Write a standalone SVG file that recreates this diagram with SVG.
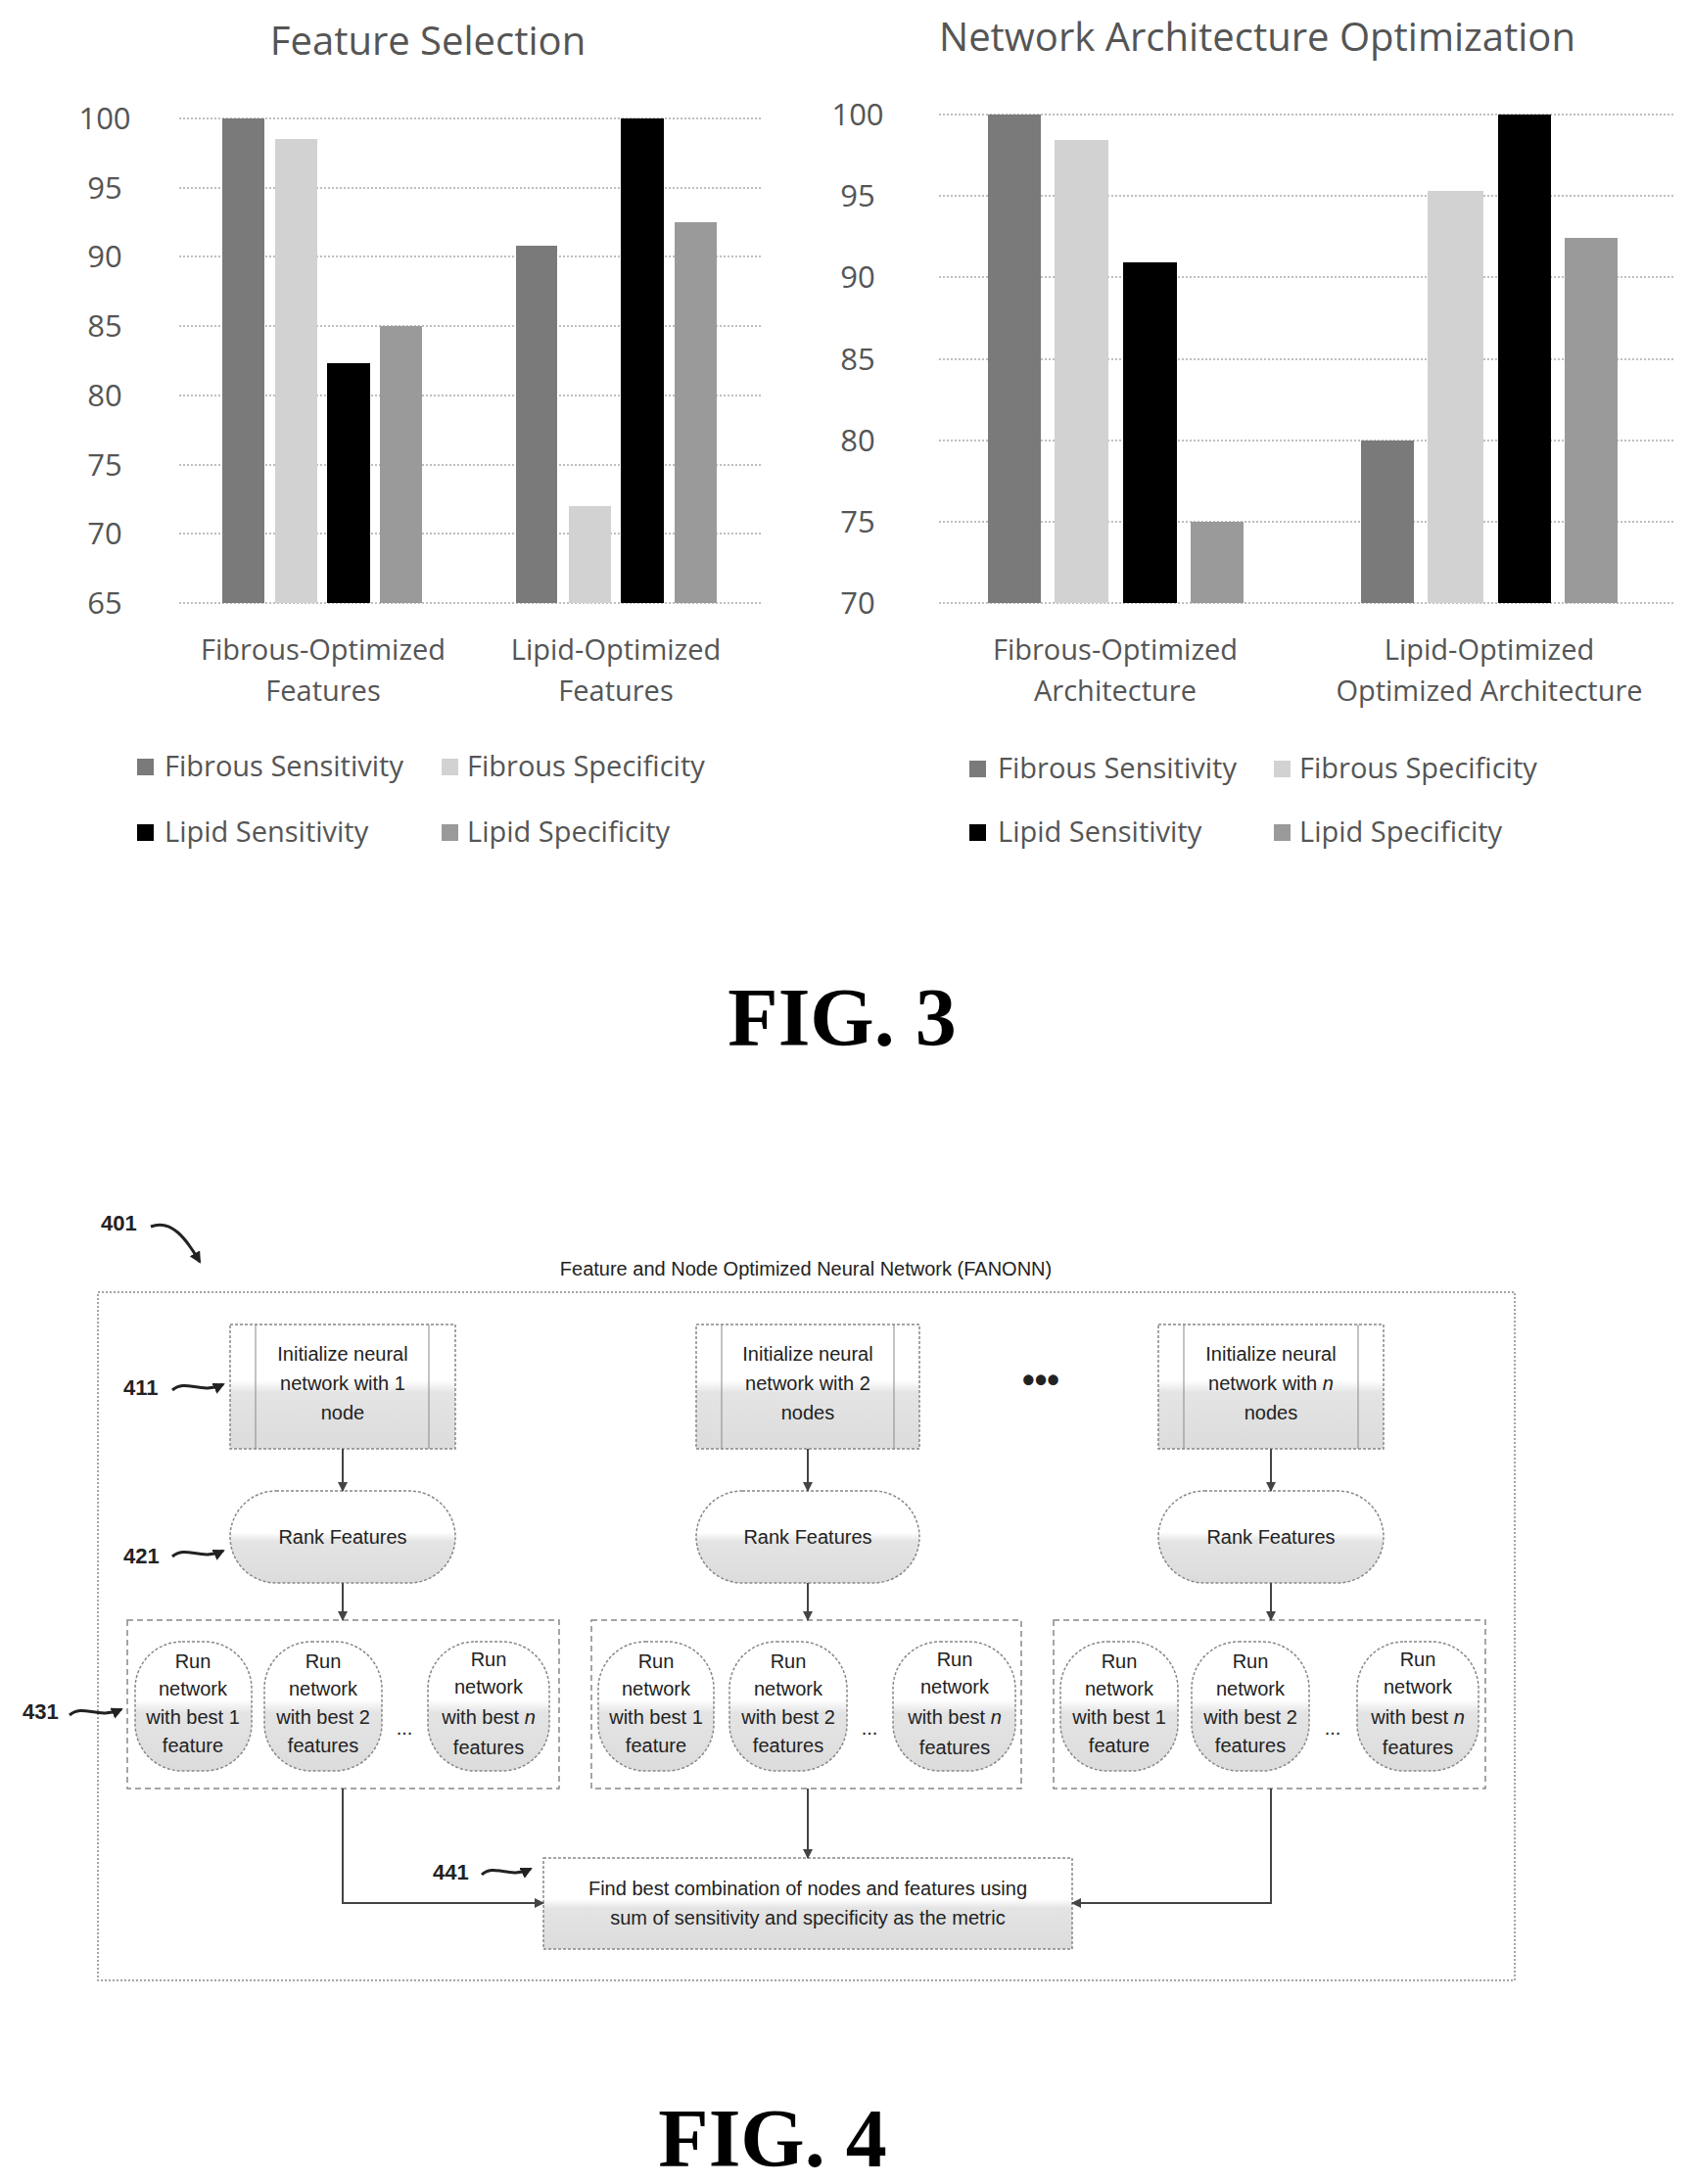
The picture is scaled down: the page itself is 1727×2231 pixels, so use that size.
<svg xmlns="http://www.w3.org/2000/svg" width="1727" height="2231" viewBox="0 0 1727 2231">
<style>
.ct{font-family:"Open Sans","Noto Sans",sans-serif;fill:#555}
.t{font-size:40px}
.ax{font-size:31px;text-anchor:middle}
.cat{font-size:29px;text-anchor:middle}
.lg{font-size:29px}
.g{stroke:#aaa;stroke-width:1.5;stroke-dasharray:2 2}
.fs{fill:#7a7a7a}.fp{fill:#d2d2d2}.ls{fill:#000}.lp{fill:#9a9a9a}
.fig{font-family:"Liberation Serif",serif;font-weight:bold;font-size:84px;text-anchor:middle;fill:#000}
.ft{font-family:"Liberation Sans",Arial,sans-serif;font-size:20px;fill:#222;text-anchor:middle}
.lb{font-family:"Liberation Sans",Arial,sans-serif;font-size:22px;font-weight:bold;fill:#222}
.bx{fill:url(#gr);stroke:#888;stroke-width:1.5;stroke-dasharray:3 2}
.dash{fill:none;stroke:#888;stroke-width:1.5;stroke-dasharray:6 4}
.c{fill:none;stroke:#444;stroke-width:2;marker-end:url(#ar)}
.sq{fill:none;stroke:#222;stroke-width:3;marker-end:url(#ar2)}
</style>
<defs>
<linearGradient id="gr" x1="0" y1="0" x2="0" y2="1"><stop offset="0.45" stop-color="#fff"/><stop offset="0.55" stop-color="#e4e4e4"/><stop offset="1" stop-color="#dcdcdc"/></linearGradient>
<marker id="ar" markerWidth="10" markerHeight="10" refX="9" refY="5" orient="auto" markerUnits="userSpaceOnUse"><path d="M0,0 L10,5 L0,10 z" fill="#444"/></marker>
<marker id="ar2" markerWidth="12" markerHeight="12" refX="10" refY="6" orient="auto" markerUnits="userSpaceOnUse"><path d="M0,0 L12,6 L0,12 z" fill="#222"/></marker>
</defs>
<g id="chart1">
<text class="ct t" x="437" y="56" text-anchor="middle">Feature Selection</text>
<g class="g"><line x1="183" y1="121" x2="778" y2="121"/><line x1="183" y1="192" x2="778" y2="192"/><line x1="183" y1="262" x2="778" y2="262"/><line x1="183" y1="333" x2="778" y2="333"/><line x1="183" y1="404" x2="778" y2="404"/><line x1="183" y1="475" x2="778" y2="475"/><line x1="183" y1="545" x2="778" y2="545"/><line x1="183" y1="616" x2="778" y2="616"/></g>
<g class="ct ax"><text x="107" y="132">100</text><text x="107" y="203">95</text><text x="107" y="273">90</text><text x="107" y="344">85</text><text x="107" y="415">80</text><text x="107" y="486">75</text><text x="107" y="556">70</text><text x="107" y="627">65</text></g>
<rect class="fs" x="227" y="121" width="43" height="495"/><rect class="fp" x="281" y="142" width="43" height="474"/><rect class="ls" x="334" y="371" width="44" height="245"/><rect class="lp" x="388" y="333" width="43" height="283"/>
<rect class="fs" x="527" y="251" width="42" height="365"/><rect class="fp" x="581" y="517" width="43" height="99"/><rect class="ls" x="634" y="121" width="44" height="495"/><rect class="lp" x="689" y="227" width="43" height="389"/>
<g class="ct cat"><text x="330" y="674">Fibrous-Optimized</text><text x="330" y="716">Features</text><text x="629" y="674">Lipid-Optimized</text><text x="629" y="716">Features</text></g>
<rect class="fs" x="140" y="775" width="17" height="17"/><text class="ct lg" x="168" y="793">Fibrous Sensitivity</text>
<rect class="fp" x="451" y="775" width="17" height="17"/><text class="ct lg" x="477" y="793">Fibrous Specificity</text>
<rect class="ls" x="140" y="842" width="17" height="17"/><text class="ct lg" x="168" y="860">Lipid Sensitivity</text>
<rect class="lp" x="451" y="842" width="17" height="17"/><text class="ct lg" x="477" y="860">Lipid Specificity</text>
</g>
<g id="chart2">
<text class="ct t" x="1284" y="52" text-anchor="middle">Network Architecture Optimization</text>
<g class="g"><line x1="959" y1="117" x2="1710" y2="117"/><line x1="959" y1="200" x2="1710" y2="200"/><line x1="959" y1="283" x2="1710" y2="283"/><line x1="959" y1="367" x2="1710" y2="367"/><line x1="959" y1="450" x2="1710" y2="450"/><line x1="959" y1="533" x2="1710" y2="533"/><line x1="959" y1="616" x2="1710" y2="616"/></g>
<g class="ct ax"><text x="876" y="128">100</text><text x="876" y="211">95</text><text x="876" y="294">90</text><text x="876" y="378">85</text><text x="876" y="461">80</text><text x="876" y="544">75</text><text x="876" y="627">70</text></g>
<rect class="fs" x="1009" y="117" width="54" height="499"/><rect class="fp" x="1077" y="143" width="55" height="473"/><rect class="ls" x="1147" y="268" width="55" height="348"/><rect class="lp" x="1216" y="533" width="54" height="83"/>
<rect class="fs" x="1390" y="450" width="54" height="166"/><rect class="fp" x="1458" y="195" width="57" height="421"/><rect class="ls" x="1530" y="117" width="54" height="499"/><rect class="lp" x="1598" y="243" width="54" height="373"/>
<g class="ct cat"><text x="1139" y="674">Fibrous-Optimized</text><text x="1139" y="716">Architecture</text><text x="1521" y="674">Lipid-Optimized</text><text x="1521" y="716">Optimized Architecture</text></g>
<rect class="fs" x="990" y="777" width="17" height="17"/><text class="ct lg" x="1019" y="795">Fibrous Sensitivity</text>
<rect class="fp" x="1301" y="777" width="17" height="17"/><text class="ct lg" x="1327" y="795">Fibrous Specificity</text>
<rect class="ls" x="990" y="842" width="17" height="17"/><text class="ct lg" x="1019" y="860">Lipid Sensitivity</text>
<rect class="lp" x="1301" y="842" width="17" height="17"/><text class="ct lg" x="1327" y="860">Lipid Specificity</text>
</g>
<text class="fig" x="860" y="1068">FIG. 3</text>
<g id="fig4">
<rect id="outer" class="dash" x="100" y="1320" width="1447" height="703" style="stroke-dasharray:2 2"/>
<text class="ft" x="823" y="1303">Feature and Node Optimized Neural Network (FANONN)</text>
<g id="l401"><text class="lb" x="103" y="1257">401</text><path class="sq" d="M154,1253 C175,1245 190,1265 204,1289"/></g>
<g id="n411a"><rect class="bx" x="235" y="1353" width="230" height="127"/><line x1="261" y1="1353" x2="261" y2="1480" stroke="#888"/><line x1="438" y1="1353" x2="438" y2="1480" stroke="#888"/><text class="ft" x="350" y="1390">Initialize neural</text><text class="ft" x="350" y="1420">network with 1</text><text class="ft" x="350" y="1450">node</text></g>
<g id="n411b"><rect class="bx" x="711" y="1353" width="228" height="127"/><line x1="737" y1="1353" x2="737" y2="1480" stroke="#888"/><line x1="913" y1="1353" x2="913" y2="1480" stroke="#888"/><text class="ft" x="825" y="1390">Initialize neural</text><text class="ft" x="825" y="1420">network with 2</text><text class="ft" x="825" y="1450">nodes</text></g>
<g id="n411c"><rect class="bx" x="1183" y="1353" width="230" height="127"/><line x1="1209" y1="1353" x2="1209" y2="1480" stroke="#888"/><line x1="1387" y1="1353" x2="1387" y2="1480" stroke="#888"/><text class="ft" x="1298" y="1390">Initialize neural</text><text class="ft" x="1298" y="1420">network with <tspan font-style="italic">n</tspan></text><text class="ft" x="1298" y="1450">nodes</text></g>
<text x="1063" y="1422" font-family="Liberation Sans,Arial,sans-serif" font-size="36" font-weight="bold" text-anchor="middle" fill="#222">•••</text>
<g id="l411"><text class="lb" x="126" y="1425">411</text><path class="sq" d="M176,1420 C190,1408 205,1425 228,1414"/></g>
<g id="n421a"><rect class="bx" x="235" y="1523" width="230" height="94" rx="47"/><text class="ft" x="350" y="1577">Rank Features</text></g>
<g id="n421b"><rect class="bx" x="711" y="1523" width="228" height="94" rx="47"/><text class="ft" x="825" y="1577">Rank Features</text></g>
<g id="n421c"><rect class="bx" x="1183" y="1523" width="230" height="94" rx="47"/><text class="ft" x="1298" y="1577">Rank Features</text></g>
<g id="l421"><text class="lb" x="126" y="1597">421</text><path class="sq" d="M176,1590 C190,1578 205,1595 228,1584"/></g>
<g id="g431a"><rect class="dash" x="130" y="1655" width="441" height="172"/>
<rect class="bx" x="138" y="1677" width="119" height="132" rx="48"/><text class="ft" x="197" y="1704">Run</text><text class="ft" x="197" y="1732">network</text><text class="ft" x="197" y="1761">with best 1</text><text class="ft" x="197" y="1790">feature</text>
<rect class="bx" x="270" y="1677" width="120" height="132" rx="48"/><text class="ft" x="330" y="1704">Run</text><text class="ft" x="330" y="1732">network</text><text class="ft" x="330" y="1761">with best 2</text><text class="ft" x="330" y="1790">features</text>
<text class="ft" x="413" y="1772">...</text>
<rect class="bx" x="437" y="1677" width="124" height="132" rx="48"/><text class="ft" x="499" y="1702">Run</text><text class="ft" x="499" y="1730">network</text><text class="ft" x="499" y="1761">with best <tspan font-style="italic">n</tspan></text><text class="ft" x="499" y="1792">features</text></g>
<g id="g431b"><rect class="dash" x="604" y="1655" width="439" height="172"/>
<rect class="bx" x="611" y="1677" width="118" height="132" rx="48"/><text class="ft" x="670" y="1704">Run</text><text class="ft" x="670" y="1732">network</text><text class="ft" x="670" y="1761">with best 1</text><text class="ft" x="670" y="1790">feature</text>
<rect class="bx" x="745" y="1677" width="120" height="132" rx="48"/><text class="ft" x="805" y="1704">Run</text><text class="ft" x="805" y="1732">network</text><text class="ft" x="805" y="1761">with best 2</text><text class="ft" x="805" y="1790">features</text>
<text class="ft" x="888" y="1772">...</text>
<rect class="bx" x="912" y="1677" width="125" height="132" rx="48"/><text class="ft" x="975" y="1702">Run</text><text class="ft" x="975" y="1730">network</text><text class="ft" x="975" y="1761">with best <tspan font-style="italic">n</tspan></text><text class="ft" x="975" y="1792">features</text></g>
<g id="g431c"><rect class="dash" x="1076" y="1655" width="441" height="172"/>
<rect class="bx" x="1083" y="1677" width="120" height="132" rx="48"/><text class="ft" x="1143" y="1704">Run</text><text class="ft" x="1143" y="1732">network</text><text class="ft" x="1143" y="1761">with best 1</text><text class="ft" x="1143" y="1790">feature</text>
<rect class="bx" x="1217" y="1677" width="120" height="132" rx="48"/><text class="ft" x="1277" y="1704">Run</text><text class="ft" x="1277" y="1732">network</text><text class="ft" x="1277" y="1761">with best 2</text><text class="ft" x="1277" y="1790">features</text>
<text class="ft" x="1361" y="1772">...</text>
<rect class="bx" x="1386" y="1677" width="124" height="132" rx="48"/><text class="ft" x="1448" y="1702">Run</text><text class="ft" x="1448" y="1730">network</text><text class="ft" x="1448" y="1761">with best <tspan font-style="italic">n</tspan></text><text class="ft" x="1448" y="1792">features</text></g>
<g id="l431"><text class="lb" x="23" y="1756">431</text><path class="sq" d="M71,1752 C85,1740 100,1757 124,1746"/></g>
<g id="n441"><rect class="bx" x="555" y="1898" width="540" height="93"/><text class="ft" x="825" y="1936">Find best combination of nodes and features using</text><text class="ft" x="825" y="1966">sum of sensitivity and specificity as the metric</text></g>
<g id="l441"><text class="lb" x="442" y="1920">441</text><path class="sq" d="M492,1915 C505,1903 520,1920 542,1909"/></g>
</g>
<g id="connectors">
<path class="c" d="M350,1480 V1523"/><path class="c" d="M825,1480 V1523"/><path class="c" d="M1298,1480 V1523"/>
<path class="c" d="M350,1617 V1655"/><path class="c" d="M825,1617 V1655"/><path class="c" d="M1298,1617 V1655"/>
<path class="c" d="M350,1827 V1944 H555"/><path class="c" d="M825,1827 V1898"/><path class="c" d="M1298,1827 V1944 H1095"/>
</g>
<text class="fig" x="789" y="2213">FIG. 4</text>
</svg>
